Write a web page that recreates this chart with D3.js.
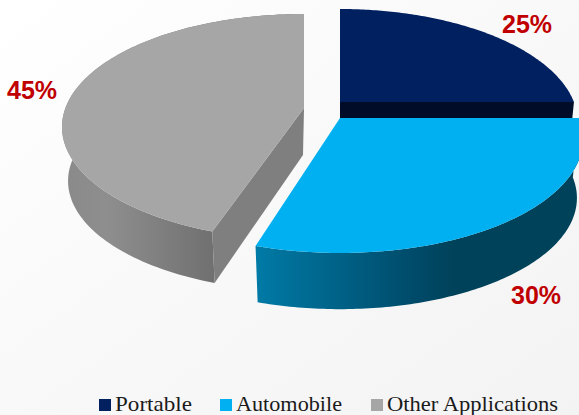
<!DOCTYPE html>
<html><head><meta charset="utf-8">
<script src="https://cdn.jsdelivr.net/npm/d3@7"></script>
<style>html,body{margin:0;padding:0;overflow:hidden}svg{display:block}</style>
</head><body><svg id="c" width="579" height="415"></svg>
<script>
const categories = ["Portable", "Automobile", "Other Applications"];
const shares = [25, 30, 45];
const labels = ["25%", "30%", "45%"];
const colors = ["#002060", "#00B0F0", "#A6A6A6"];

// exploded-slice placement, in pixels (apex of each wedge)
const apexX = [340, 340, 304];
const apexY = [102, 118, 108];
const radiusX = [238, 243, 242];
const radiusY = [114, 114, 113];
const centreOff = [21, 21, 19];
const squash = [0.47, 0.492, 0.438];
const drops = [59, 59, 54];
const radialColors = ["#000C28", null, "#7F7F7F"];

const BOTTOM_SCALE = 0.975, RADIAL_DROP = 47;

const svg = d3.select("#c");
const defs = svg.append("defs");

const bg = defs.append("linearGradient").attr("id", "bg")
  .attr("x1", 0).attr("y1", 0).attr("x2", 1).attr("y2", 1);
bg.append("stop").attr("offset", 0).attr("stop-color", "#FFFFFF");
bg.append("stop").attr("offset", 0.45).attr("stop-color", "#F9F9F9");
bg.append("stop").attr("offset", 1).attr("stop-color", "#F3F3F3");
svg.append("rect").attr("width", 579).attr("height", 415).attr("fill", "url(#bg)");

function wallGradient(id, x0, x1, stops) {
  const g = defs.append("linearGradient").attr("id", id)
    .attr("gradientUnits", "userSpaceOnUse")
    .attr("x1", x0).attr("x2", x1).attr("y1", 0).attr("y2", 0);
  stops.forEach(s => g.append("stop").attr("offset", s[0]).attr("stop-color", s[1]));
}
wallGradient("wallGray", 62, 214, [[0, "#8A8A8A"], [0.3, "#8E8E8E"], [1, "#707070"]]);
wallGradient("wallBlue", 254, 579, [[0, "#007BA7"], [0.5, "#004A69"], [0.62, "#004259"], [1, "#00425A"]]);
const wallFills = [null, "url(#wallBlue)", "url(#wallGray)"];

const pie = d3.pie().sort(null).value(d => d);
const arcs = pie(shares);

// point where the ray at pie angle a leaves the ellipse, seen from the apex
function rim(a, i, scale, shift) {
  const rx = radiusX[i] * scale, ry = radiusY[i] * scale;
  const dx = Math.sin(a), dy = -squash[i] * Math.cos(a);
  const oy = -centreOff[i] * scale; // apex relative to ellipse centre
  const A = dx * dx / (rx * rx) + dy * dy / (ry * ry);
  const B = 2 * dy * oy / (ry * ry);
  const C = oy * oy / (ry * ry) - 1;
  const t = (-B + Math.sqrt(B * B - 4 * A * C)) / (2 * A);
  return [apexX[i] + t * dx, apexY[i] + shift + t * dy];
}
const line = d3.line();
const STEPS = 120;
function rimPoints(d, i, scale, shift) {
  const ang = d3.scaleLinear().domain([0, STEPS]).range([d.startAngle, d.endAngle]);
  return d3.range(STEPS + 1).map(s => rim(ang(s), i, scale, shift));
}

// the wall is the union of the quads between the upper and lower rim
function wallPath(top, bot) {
  return d3.range(STEPS).map(s => line([top[s], top[s + 1], bot[s + 1], bot[s]]) + "Z").join("");
}

// draw back-to-front: gray and navy first, blue over navy
[2, 0, 1].forEach(i => {
  const d = arcs[i];
  const g = svg.append("g").attr("class", "slice");
  const top = rimPoints(d, i, 1, 0);
  const bot = rimPoints(d, i, BOTTOM_SCALE, drops[i] + centreOff[i] * (1 - BOTTOM_SCALE));
  const apex = [apexX[i], apexY[i]];

  if (i === 2) {
    g.append("path").attr("d", wallPath(top, bot)).attr("fill", wallFills[i]);
    g.append("path").attr("d", line([apex, top[0], bot[0], [apex[0] - 1, apex[1] + RADIAL_DROP]]) + "Z")
      .attr("fill", radialColors[i]);
  } else if (i === 1) {
    g.append("path").attr("d", wallPath(top, bot)).attr("fill", wallFills[i]);
  } else {
    g.append("path").attr("d", line([apex, top[STEPS], [top[STEPS][0] - 2, apex[1] + 20], [apex[0], apex[1] + 20]]) + "Z")
      .attr("fill", radialColors[i]);
  }
  g.append("path").attr("d", line([apex].concat(top)) + "Z").attr("fill", colors[i]);
});

// percentage labels
const labelX = [502, 511, 7];
const labelY = [33, 304, 99];
svg.selectAll("text.pct").data(labels).join("text").attr("class", "pct")
  .attr("x", (d, i) => labelX[i]).attr("y", (d, i) => labelY[i])
  .attr("font-family", "'Liberation Sans', Arial, sans-serif")
  .attr("font-weight", "bold").attr("font-size", 25).attr("fill", "#C00000")
  .text(d => d);

// legend
const swatchX = [99, 220, 371];
const textW = [77, 106, 171];
const lg = svg.selectAll("g.lg").data(categories).join("g").attr("class", "lg");
lg.append("rect").attr("x", (d, i) => swatchX[i]).attr("y", 399)
  .attr("width", 12).attr("height", 12).attr("fill", (d, i) => colors[i]);
lg.append("text").attr("x", (d, i) => swatchX[i] + 16).attr("y", 411)
  .attr("font-family", "'Liberation Serif', serif").attr("font-size", 22).attr("fill", "#1A1A1A")
  .attr("textLength", (d, i) => textW[i]).attr("lengthAdjust", "spacingAndGlyphs")
  .text(d => d);
</script></body></html>
